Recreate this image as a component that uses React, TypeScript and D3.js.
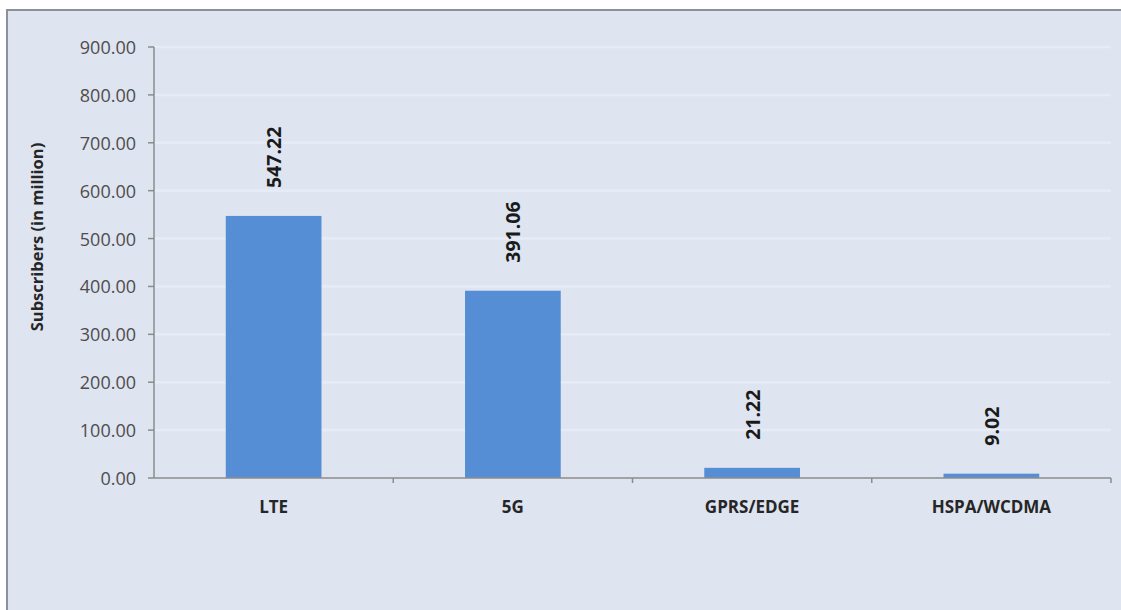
import React from 'react';
import * as d3 from 'd3';

const categories = ['LTE', '5G', 'GPRS/EDGE', 'HSPA/WCDMA'];
const subscribers = [547.22, 391.06, 21.22, 9.02];
const yTicks = [0, 100, 200, 300, 400, 500, 600, 700, 800, 900];

const W = 1121;
const H = 610;
const margin = { top: 47, right: 10, bottom: 132, left: 154 };

export default function App() {
  const innerW = 1111 - margin.left;
  const innerH = 478 - margin.top;

  const x = d3.scaleBand<string>()
    .domain(categories)
    .range([0, innerW])
    .paddingInner(0.6)
    .paddingOuter(0.3);

  // band edges for category ticks
  const step = innerW / categories.length;

  const y = d3.scaleLinear().domain([0, 900]).range([innerH, 0]);

  const font = '"Open Sans", "Liberation Sans", sans-serif';

  return (
    <svg
      width={W}
      height={H}
      style={{ position: 'absolute', left: 0, top: 0, display: 'block' }}
    >
      <rect x={0} y={0} width={W} height={H} fill="#ffffff" />
      <rect x={7} y={10} width={W - 7} height={H - 10} fill="#dee4f0" />
      <path d={`M7,${H} V10 H${W}`} fill="none" stroke="#8a919b" strokeWidth={2} />

      {/* axis title */}
      <text
        transform={`translate(36,237) rotate(-90)`}
        textAnchor="middle"
        dominantBaseline="central"
        fontFamily={font}
        fontWeight="bold"
        fontSize={16.5}
        fill="#262626"
      >
        Subscribers (in million)
      </text>

      <g transform={`translate(${margin.left},${margin.top})`}>
        {/* gridlines */}
        {yTicks.filter(t => t > 0).map(t => (
          <line
            key={'g' + t}
            x1={1}
            x2={innerW}
            y1={y(t)}
            y2={y(t)}
            stroke="#e7ebf5"
            strokeWidth={2.5}
          />
        ))}

        {/* bars */}
        {categories.map((c, i) => (
          <rect
            key={c}
            x={x(c)}
            y={y(subscribers[i])}
            width={x.bandwidth()}
            height={innerH - y(subscribers[i])}
            fill="#558ed5"
          />
        ))}

        {/* y axis */}
        <line x1={0} x2={0} y1={0} y2={innerH} stroke="#8c8c8c" strokeWidth={1.5} />
        {yTicks.map(t => (
          <g key={'t' + t} transform={`translate(0,${y(t)})`}>
            <line x1={-6} x2={0} stroke="#8c8c8c" strokeWidth={1.5} />
            <text
              x={-18}
              textAnchor="end"
              dominantBaseline="central"
              fontFamily={font}
              fontSize={18}
              fill="#4d4d4d"
            >
              {t.toFixed(2)}
            </text>
          </g>
        ))}

        {/* x axis */}
        <line x1={0} x2={innerW} y1={innerH} y2={innerH} stroke="#8c8c8c" strokeWidth={1.5} />
        {categories.map((c, i) => (
          <line
            key={'xt' + c}
            x1={step * (i + 1)}
            x2={step * (i + 1)}
            y1={innerH}
            y2={innerH + 5}
            stroke="#8c8c8c"
            strokeWidth={1.5}
          />
        ))}
        {categories.map(c => (
          <text
            key={'xl' + c}
            x={(x(c) as number) + x.bandwidth() / 2}
            y={innerH + 35}
            textAnchor="middle"
            fontFamily={font}
            fontWeight="bold"
            fontSize={17}
            fill="#262626"
          >
            {c}
          </text>
        ))}

        {/* value labels */}
        {categories.map((c, i) => (
          <text
            key={'v' + c}
            transform={`translate(${(x(c) as number) + x.bandwidth() / 2},${y(subscribers[i]) - 28}) rotate(-90)`}
            textAnchor="start"
            dominantBaseline="central"
            fontFamily={font}
            fontWeight="bold"
            fontSize={19.5}
            fill="#1a1a1a"
          >
            {subscribers[i].toFixed(2)}
          </text>
        ))}
      </g>
    </svg>
  );
}
